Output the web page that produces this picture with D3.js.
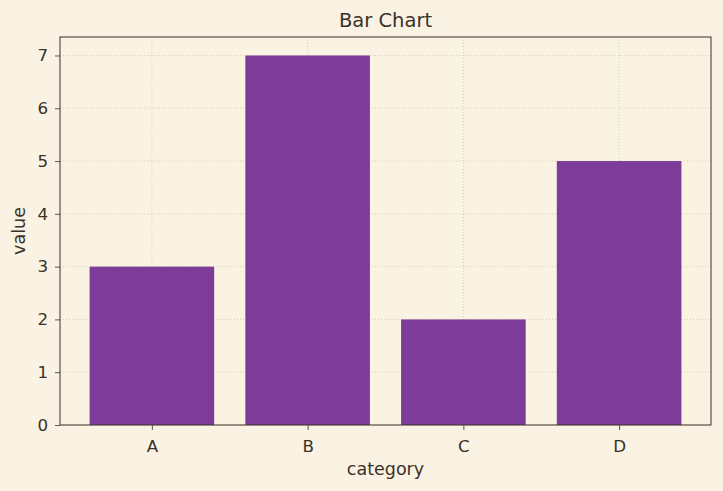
<!DOCTYPE html>
<html>
<head>
<meta charset="utf-8">
<script src="https://cdn.jsdelivr.net/npm/d3@7"></script>
<style>
  body { margin: 0; background: #faf3e3; }
  text { font-family: "DejaVu Sans", sans-serif; fill: #3b3128; }
</style>
</head>
<body>
<script>
// chart data
var categories = ["A", "B", "C", "D"];
var values = [3, 7, 2, 5];
var yTicks = [0, 1, 2, 3, 4, 5, 6, 7];

var W = 723, H = 491;
var margin = {left: 60, right: 12, top: 37, bottom: 66};
var iw = W - margin.left - margin.right,
    ih = H - margin.top - margin.bottom;

var svg = d3.select("body").append("svg").attr("width", W).attr("height", H);
svg.append("rect").attr("width", W).attr("height", H).attr("fill", "#faf3e3");

var g = svg.append("g").attr("transform", "translate(" + margin.left + "," + margin.top + ")");

// matplotlib-like margins: bars 0.8 wide, 5% padding
var barW = 0.8;
var span = (categories.length - 1 + barW);
var x = d3.scaleLinear()
    .domain([-barW / 2 - span * 0.05, categories.length - 1 + barW / 2 + span * 0.05])
    .range([0, iw]);
var y = d3.scaleLinear().domain([0, d3.max(values) * 1.05]).range([ih, 0]);

// grid
g.append("g").selectAll("line").data(yTicks).enter().append("line")
    .attr("x1", 0).attr("x2", iw)
    .attr("y1", d => y(d)).attr("y2", d => y(d))
    .attr("stroke", "#cdc5b4").attr("stroke-width", 0.8).attr("stroke-dasharray", "1,2");
g.append("g").selectAll("line").data(categories).enter().append("line")
    .attr("y1", 0).attr("y2", ih)
    .attr("x1", (d, i) => x(i)).attr("x2", (d, i) => x(i))
    .attr("stroke", "#cdc5b4").attr("stroke-width", 0.8).attr("stroke-dasharray", "1,2");

// bars
g.selectAll(".bar").data(values).enter().append("rect")
    .attr("class", "bar")
    .attr("x", (d, i) => x(i - barW / 2))
    .attr("width", x(barW) - x(0))
    .attr("y", d => y(d))
    .attr("height", d => ih - y(d))
    .attr("fill", "#7d3c98");

// axes
var xAxis = g.append("g").attr("transform", "translate(0," + ih + ")")
    .attr("font-size", 16.7)
    .call(d3.axisBottom(x).tickValues(d3.range(categories.length))
        .tickFormat(i => categories[i]).tickSize(5).tickPadding(10));
var yAxis = g.append("g")
    .attr("font-size", 16.7)
    .call(d3.axisLeft(y).tickValues(yTicks).tickSize(5).tickPadding(7));
[xAxis, yAxis].forEach(function(a) {
  a.attr("font-size", 16.7).attr("font-family", null);
  a.select(".domain").remove();
  a.selectAll("line").attr("stroke", "#3b3128").attr("stroke-width", 0.8);
  a.selectAll("text").attr("fill", "#3b3128");
});

// frame
g.append("rect").attr("width", iw).attr("height", ih)
    .attr("fill", "none").attr("stroke", "#3b3128").attr("stroke-width", 1);

// labels
svg.append("text").attr("x", margin.left + iw / 2).attr("y", 27)
    .attr("text-anchor", "middle").style("font-size", "19.5px").text("Bar Chart");
svg.append("text").attr("x", margin.left + iw / 2).attr("y", 475)
    .attr("text-anchor", "middle").style("font-size", "17.5px").text("category");
svg.append("text").attr("transform", "translate(25," + (margin.top + ih / 2) + ") rotate(-90)")
    .attr("text-anchor", "middle").style("font-size", "17.5px").text("value");
</script>
</body>
</html>
